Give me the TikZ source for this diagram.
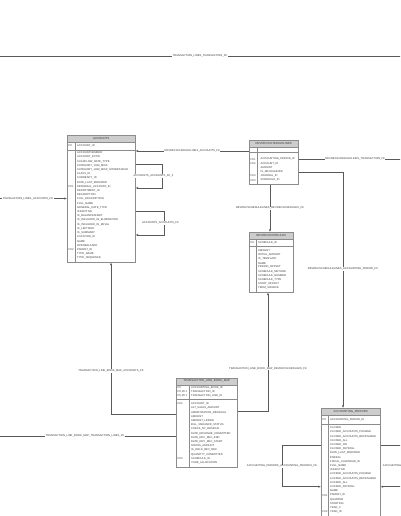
\documentclass[tikz,border=0pt]{standalone}
\usepackage{fontspec}
\setmainfont{Liberation Sans}
\usetikzlibrary{arrows.meta}
\definecolor{frame}{HTML}{8C8C8C}
\definecolor{wire}{HTML}{5A5A5A}
\definecolor{headfill}{HTML}{CDCDCD}
\definecolor{ink}{HTML}{3C3C3C}

\begin{document}
\begin{tikzpicture}[
        x=1pt, y=-1pt,
        entity/.style={
            draw=frame,
            line width=0.5pt,
            inner sep=0pt,
            anchor=north west
        },
        headbox/.style={
            draw=frame,
            fill=headfill,
            line width=0.5pt,
            inner sep=0pt,
            minimum height=7pt,
            anchor=north,
            font=\fontsize{2.9}{3}\selectfont,
            text=ink
        },
        fieldtxt/.style={
            inner sep=0pt,
            anchor=west,
            font=\fontsize{2.7}{3}\selectfont,
            text=ink
        },
        sepline/.style={
            draw=frame,
            line width=0.4pt
        },
        rel/.style={
            wire,
            line width=0.55pt,
            >={Latex[length=2.6pt,width=2.2pt]}
        },
        lbl/.style={
            fill=white,
            inner sep=0.4pt,
            font=\fontsize{2.7}{3}\selectfont,
            text=ink
        }
    ]

    \useasboundingbox (0,0) rectangle (400,516);
    \clip (0,0) rectangle (400,516);

    % ACCOUNTS
    \node[entity, minimum width=68pt, minimum height=127pt] (acc) at (67,135) {};
    \node[headbox, minimum width=68pt] (acc-hd) at (acc.north) {ACCOUNTS};
    \draw[sepline] (acc.west |- 0,150) -- (acc.east |- 0,150);
    \draw[sepline] (acc-hd.south -| 75,0) -- (acc.south -| 75,0);
    \node[fieldtxt] (acc-pk) at (68.5,146) {PK};
    \node[fieldtxt] (acc-id) at (77,146) {ACCOUNT\_ID};
    \foreach \f [count=\i from 0] in {ACCOUNTNUMBER, ACCOUNT\_EXTID,
        CASHFLOW\_RATE\_TYPE, CATEGORY\_1099\_MISC,
        CATEGORY\_1099\_MISC\_MTHRESHOLD, CLASS\_ID, CURRENCY\_ID,
        DATE\_LAST\_MODIFIED, DEFERRAL\_ACCOUNT\_ID, DEPARTMENT\_ID,
        DESCRIPTION, FULL\_DESCRIPTION, FULL\_NAME, GENERAL\_RATE\_TYPE,
        ISINACTIVE, IS\_BALANCESHEET, IS\_INCLUDED\_IN\_ELIMINATION,
        IS\_INCLUDED\_IN\_REVAL, IS\_LEFTSIDE, IS\_SUMMARY, LOCATION\_ID,
        NAME, OPENBALANCE, PARENT\_ID, TYPE\_NAME, TYPE\_SEQUENCE}
        \node[fieldtxt] (acc-f\i) at (77,153+4.2*\i) {\f};
    \node[fieldtxt] (acc-fk1) at (68.5,186.6) {FK1};
    \node[fieldtxt] (acc-fk2) at (68.5,249.6) {FK2};

    % REVRECSCHEDULELINES
    \node[entity, minimum width=49pt, minimum height=44pt] (rrsl) at (249,140) {};
    \node[headbox, minimum width=49pt] (rrsl-hd) at (rrsl.north) {REVRECSCHEDULELINES};
    \draw[sepline] (rrsl.west |- 0,152) -- (rrsl.east |- 0,152);
    \draw[sepline] (rrsl-hd.south -| 257.3,0) -- (rrsl.south -| 257.3,0);
    \foreach \f [count=\i from 0] in {ACCOUNTING\_PERIOD\_ID, ACCOUNT\_ID,
        AMOUNT, IS\_RECOGNIZED, JOURNAL\_ID, SCHEDULE\_ID}
        \node[fieldtxt] (rrsl-f\i) at (260.5,159.2+4.2*\i) {\f};
    \node[fieldtxt] (rrsl-fk1) at (250.5,159.2) {FK1};
    \node[fieldtxt] (rrsl-fk2) at (250.5,163.4) {FK2};
    \node[fieldtxt] (rrsl-fk4) at (250.5,176) {FK4};
    \node[fieldtxt] (rrsl-fk3) at (250.5,180.2) {FK3};

    % REVRECSCHEDULES
    \node[entity, minimum width=44pt, minimum height=60pt] (rrs) at (249,232) {};
    \node[headbox, minimum width=44pt] (rrs-hd) at (rrs.north) {REVRECSCHEDULES};
    \draw[sepline] (rrs.west |- 0,246) -- (rrs.east |- 0,246);
    \draw[sepline] (rrs-hd.south -| 256,0) -- (rrs.south -| 256,0);
    \node[fieldtxt] (rrs-pk) at (250.5,242.5) {PK};
    \node[fieldtxt] (rrs-id) at (258,242.5) {SCHEDULE\_ID};
    \foreach \f [count=\i from 0] in {AMOUNT, INITIAL\_AMOUNT, IS\_TEMPLATE,
        NAME, PERIOD\_OFFSET, SCHEDULE\_METHOD, SCHEDULE\_NUMBER,
        SCHEDULE\_TYPE, START\_OFFSET, TERM\_SOURCE}
        \node[fieldtxt] (rrs-f\i) at (258,250.5+4.2*\i) {\f};

    % TRANSACTION_LINE_BOOK_MAP
    \node[entity, minimum width=61pt, minimum height=89pt] (tlbm) at (176,377.5) {};
    \node[headbox, minimum width=61pt] (tlbm-hd) at (tlbm.north) {TRANSACTION\_LINE\_BOOK\_MAP};
    \draw[sepline] (tlbm.west |- 0,399.5) -- (tlbm.east |- 0,399.5);
    \draw[sepline] (tlbm-hd.south -| 189,0) -- (tlbm.south -| 189,0);
    \foreach \k/\f [count=\i from 0] in {PK/ACCOUNTING\_BOOK\_ID,
        {PK,FK1}/TRANSACTION\_ID, {PK,FK1}/TRANSACTION\_LINE\_ID} {
        \node[fieldtxt] (tlbm-k\i) at (177.5,387.8+4.2*\i) {\k};
        \node[fieldtxt] (tlbm-p\i) at (191,387.8+4.2*\i) {\f};
    }
    \foreach \f [count=\i from 0] in {ACCOUNT\_ID, ALT\_SALES\_AMOUNT,
        AMORTIZATION\_RESIDUAL, AMOUNT, AMOUNT\_LINKED,
        BILL\_VARIANCE\_STATUS, CHECK\_NY\_RESIDUE, DATE\_REVENUE\_COMMITTED,
        DATE\_REV\_REC\_END, DATE\_REV\_REC\_START, GROSS\_AMOUNT,
        IS\_HOLD\_REV\_REC, QUANTITY\_COMMITTED, SCHEDULE\_ID,
        VSOE\_ALLOCATION}
        \node[fieldtxt] (tlbm-f\i) at (191,404+4.2*\i) {\f};
    \node[fieldtxt] (tlbm-fk2) at (177.5,404) {FK2};
    \node[fieldtxt] (tlbm-fk3) at (177.5,458.6) {FK3};

    % ACCOUNTING_PERIODS
    \node[entity, minimum width=59pt, minimum height=120pt] (ap) at (321,408) {};
    \node[headbox, minimum width=59pt] (ap-hd) at (ap.north) {ACCOUNTING\_PERIODS};
    \draw[sepline] (ap.west |- 0,424) -- (ap.east |- 0,424);
    \draw[sepline] (ap-hd.south -| 328,0) -- (ap.south -| 328,0);
    \node[fieldtxt] (ap-pk) at (322.5,419.5) {PK};
    \node[fieldtxt] (ap-id) at (330,419.5) {ACCOUNTING\_PERIOD\_ID};
    \foreach \f [count=\i from 0] in {CLOSED, CLOSED\_ACCOUNTS\_PAYABLE,
        CLOSED\_ACCOUNTS\_RECEIVABLE, CLOSED\_ALL, CLOSED\_ON,
        CLOSED\_PAYROLL, DATE\_LAST\_MODIFIED, ENDING, FISCAL\_CALENDAR\_ID,
        FULL\_NAME, ISINACTIVE, LOCKED\_ACCOUNTS\_PAYABLE,
        LOCKED\_ACCOUNTS\_RECEIVABLE, LOCKED\_ALL, LOCKED\_PAYROLL, NAME,
        PARENT\_ID, QUARTER, STARTING, YEAR\_0, YEAR\_ID}
        \node[fieldtxt] (ap-f\i) at (330,428+4.2*\i) {\f};
    \node[fieldtxt] (ap-fk1) at (322.5,495.2) {FK1};
    \node[fieldtxt] (ap-fk2) at (322.5,512) {FK2};

    % ends of the links to tables outside the view
    \coordinate (trl-w) at (-10,56);
    \coordinate (trl-e) at (410,56);
    \coordinate (trl-acc) at (-11,198.5);
    \coordinate (trl-tlbm) at (-6,436);
    \coordinate (trn-rrsl) at (412,159.3);

    \draw[rel] (trl-w) -- node[lbl] {TRANSACTION\_LINES\_TRANSACTION\_FK} (trl-e);
    \draw[rel, ->] (trl-acc) -- node[lbl] {TRANSACTION\_LINES\_ACCOUNTS\_FK} (acc.west |- 0,198.5);
    \draw[rel, ->] (tlbm.west |- 0,436) -- node[lbl] {TRANSACTION\_LINE\_BOOK\_MAP\_TRANSACTION\_LINES\_FK} (trl-tlbm);
    \draw[rel, ->] (rrsl.east |- 0,159.3) -- node[lbl] {REVRECSCHEDULELINES\_TRANSACTION\_FK} (trn-rrsl);

    % links between the tables
    \draw[rel, ->] (rrsl.west |- 0,151) -- node[lbl] {REVRECSCHEDULELINES\_ACCOUNTS\_FK} (acc.east |- 0,151);
    \draw[rel, ->] (rrsl.south -| 270,0) -- node[lbl] {REVRECSCHEDULELINES\_REVRECSCHEDULES\_FK} (rrs.north -| 270,0);
    \draw[rel, ->] (rrsl.east |- 0,172.3) -| node[lbl, pos=0.705] {REVRECSCHEDULELINES\_ACCOUNTING\_PERIOD\_FK} (ap.north -| 343,0);
    \draw[rel, ->] (tlbm.west |- 0,414) -| node[lbl, pos=0.642] {TRANSACTION\_LINE\_BOOK\_MAP\_ACCOUNTS\_FK} (acc.south -| 111,0);
    \draw[rel, ->] (tlbm.east |- 0,411) -| node[lbl, pos=0.68] {TRANSACTION\_LINE\_BOOK\_MAP\_REVRECSCHEDULES\_FK} (rrs.south -| 268,0);

    % self references
    \draw[rel, ->] (acc.east |- 0,164) -| ++(27,24) node[lbl, pos=0.75, xshift=-9pt] {ACCOUNTS\_ACCOUNTS\_FK\_2} -- (acc.east |- 0,188);
    \draw[rel, ->] (acc.east |- 0,211) -| ++(29,24) node[lbl, pos=0.75, xshift=-4pt] {ACCOUNTS\_ACCOUNTS\_FK} -- (acc.east |- 0,235);
    \draw[rel, ->] (ap.west |- 0,445.7) -| ++(-39,41) node[lbl, pos=0.75] {ACCOUNTING\_PERIODS\_ACCOUNTING\_PERIODS\_FK} -- (ap.west |- 0,486.7);
    \draw[rel, ->] (ap.east |- 0,445.7) -| ++(39,41) node[lbl, pos=0.75] {ACCOUNTING\_PERIODS\_ACCOUNTING\_PERIODS\_FK\_2} -- (ap.east |- 0,486.7);

\end{tikzpicture}
\end{document}
